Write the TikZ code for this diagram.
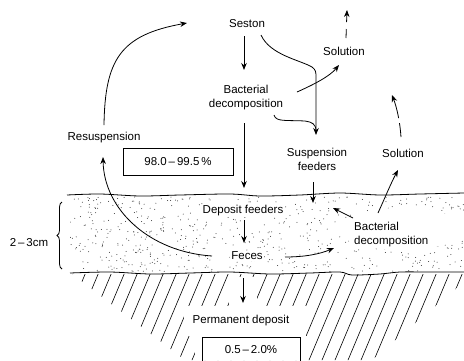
\documentclass[tikz,border=0pt]{standalone}
\usepackage{fontspec}
\setmainfont{Liberation Sans}
\usetikzlibrary{arrows.meta,decorations.pathreplacing,calc}
\begin{document}
\begin{tikzpicture}[x=1pt,y=-1pt,
  font=\fontsize{11.5}{13.5}\selectfont,
  lbl/.style={inner sep=1pt, align=center},
  ln/.style={line width=0.8pt},
  arr/.style={line width=0.8pt, -{Stealth[length=7pt,width=5.5pt]}},
  hatchline/.style={line width=0.6pt},
  boxnode/.style={draw, line width=0.8pt, inner sep=0pt}]
\useasboundingbox (0,0) rectangle (464,360);
\clip (0,0) rectangle (464,360);

% hatched permanent deposit
\begin{scope}
  \clip (72,274) -- (464,274) -- (464,282) -- (400,336) -- (372,360) -- (185,360) -- cycle;
  \foreach \i in {0,...,32} \draw[hatchline] (60+\i*13,272) -- ++(-42,100);
\end{scope}
\fill[white] (229,277) rectangle (257,308);
\fill[white] (184,306) rectangle (306,336);
\fill[white] (195,336) rectangle (307,360);

% stippled sediment
\begin{scope}
  \clip (70,195) rectangle (464,273);
  \pgfmathsetseed{4242}
  \foreach \i in {1,...,650}{%
    \pgfmathsetmacro\dx{70+394*rnd}%
    \pgfmathsetmacro\dy{197+75*rnd}%
    \fill[black!80] (\dx,\dy) circle[radius=0.5pt];}
  \fill[white] (402,229) ellipse[x radius=64, y radius=21];
\end{scope}
\draw[ln] plot[smooth] coordinates {(67,195) (100,194) (140,196) (180,195) (230,194) (260,196) (300,195) (340,193) (380,195) (420,194) (464,193)};
\draw[ln] plot[smooth] coordinates {(70,273) (110,272) (150,274) (190,273) (230,272) (270,274) (310,273) (340,272) (352,275) (380,274) (400,272) (430,272) (464,272)};

% brace
\node[lbl] (depth) at (29,243) {2\,–\,3cm};
\draw[ln, decorate, decoration={brace, amplitude=5pt}] (62,269) -- (62,202);

% labels
\node[lbl] (seston) at (247,24) {Seston};
\node[lbl] (bd1) at (246,97.5) {Bacterial\\decomposition};
\node[lbl] (sol1) at (344,51) {Solution};
\node[lbl] (resus) at (104,138) {Resuspension};
\node[boxnode, minimum width=110pt, minimum height=27pt] (box1) at (178,161.5) {98.0\,–\,99.5\,\%};
\node[lbl] (susp) at (317,159.5) {Suspension\\feeders};
\node[lbl] (sol2) at (403,153) {Solution};
\node[lbl, fill=white] (dep) at (243,211) {Deposit feeders};
\node[lbl, fill=white] (feces) at (247,256) {Feces};
\node[lbl, align=left, anchor=west] (bd2) at (353,234.5) {Bacterial\\decomposition};
\node[lbl] (perm) at (241,321) {Permanent deposit};
\node[boxnode, minimum width=98pt, minimum height=24pt] (box2) at (251,349.5) {0.5\,–\,2.0\%};

% connectors
\draw[arr] ($(seston)+(-3,12)$) -- ($(bd1)+(-2,-27.5)$);
\draw[arr] ($(bd1)+(-2,25.5)$) -- ($(dep)+(1,-23)$);
\draw[arr] ($(bd1)+(51,-5.5)$) .. controls (315,84) and (330,76) .. ($(sol1)+(-5,14)$);
\draw[arr, dash pattern=on 9pt off 7pt on 30pt] ($(sol1)+(2,-13)$) -- ($(sol1)+(3,-41)$);
\draw[arr] ($(seston)+(14,11)$) .. controls (270,55) and (300,60) .. (312,67) .. controls (316,70) and (316,72) .. (316,78) -- ($(susp)+(-1,-24.5)$);
\draw[ln] ($(bd1)+(28,17.5)$) .. controls (276,122) and (285,120) .. (305,121) .. controls (312,122) and (316,124) .. (316,131);
\draw[arr] ($(resus)+(0,-13)$) .. controls (105,60) and (120,35) .. (187,23);
\draw[arr] ($(feces)+(-35,0)$) .. controls (150,252) and (104,210) .. ($(resus)+(-1,19)$);
\draw[arr] ($(dep)+(1,9)$) -- ($(feces)+(-3,-13)$);
\draw[arr] ($(feces)+(38,1)$) .. controls (305,257) and (320,254) .. (334,248);
\draw[arr] ($(susp)+(-4,22.5)$) -- ($(susp)+(-4,43.5)$);
\draw[arr] ($(bd2.west)+(0,-16.5)$) -- ($(bd2.west)+(-20,-26.5)$);
\draw[arr] ($(bd2.west)+(25,-21.5)$) .. controls (384,200) and (391,183) .. ($(sol2)+(-5,17)$);
\draw[arr, dash pattern=on 14pt off 5pt on 40pt] ($(sol2)+(-2,-16)$) .. controls (400,122) and (397,108) .. ($(sol2)+(-11,-58)$);
\draw[arr] ($(feces)+(-4,22)$) -- ($(perm)+(2,-18)$);
\end{tikzpicture}
\end{document}
